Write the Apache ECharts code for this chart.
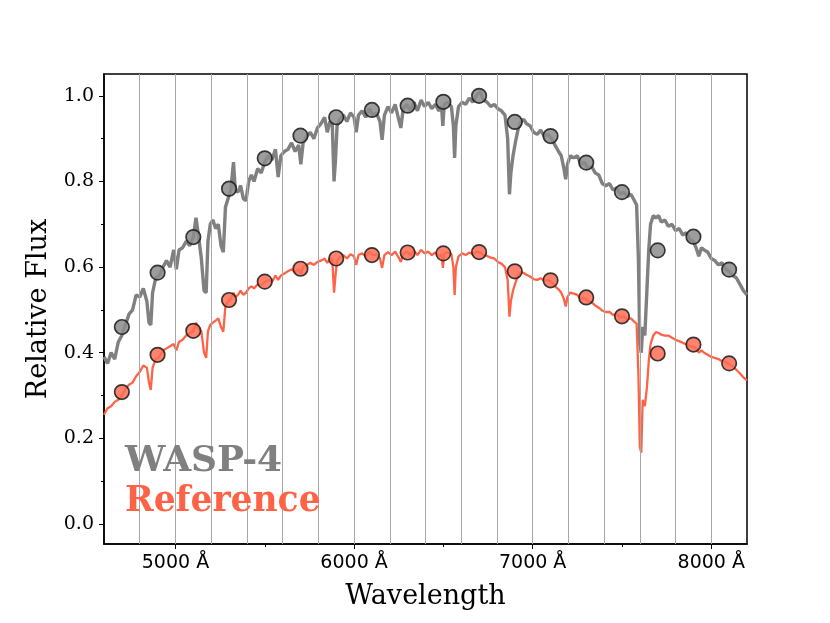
<!DOCTYPE html>
<html>
<head>
  <meta charset="UTF-8">
  <title>WASP-4 spectrum</title>
  <script src="https://cdn.jsdelivr.net/npm/echarts@6/dist/echarts.min.js"></script>
  <style>
    html, body { margin: 0; padding: 0; background: #fff; }
  </style>
</head>
<body>
  <div id="main" style="width: 830px; height: 623px;"></div>

  <script>
    // wavelength grid (Å) shared by both spectra
    const wave = [
      4600, 4620, 4640, 4660, 4680, 4700, 4720, 4740, 4760, 4780, 4800, 4820, 4840, 4852, 4862, 4872, 4890,
      4910, 4930, 4950, 4970, 4990, 5005, 5020, 5040, 5060, 5080, 5100, 5115, 5130, 5145, 5160, 5172, 5182,
      5195, 5210, 5225, 5240, 5255, 5268, 5280, 5295, 5310, 5325, 5335, 5350, 5365, 5380, 5395, 5410, 5425,
      5440, 5460, 5480, 5500, 5520, 5540, 5560, 5575, 5590, 5610, 5630, 5650, 5670, 5690, 5702, 5715, 5735,
      5755, 5775, 5795, 5815, 5835, 5850, 5865, 5878, 5888, 5896, 5905, 5920, 5940, 5960, 5980, 6000, 6012,
      6025, 6045, 6065, 6085, 6105, 6125, 6145, 6157, 6170, 6190, 6210, 6230, 6250, 6262, 6275, 6295, 6315,
      6335, 6355, 6375, 6395, 6415, 6435, 6455, 6475, 6490, 6497, 6505, 6525, 6545, 6556, 6563, 6570, 6585,
      6605, 6625, 6645, 6665, 6685, 6705, 6725, 6745, 6765, 6785, 6805, 6825, 6845, 6860, 6870, 6878, 6890,
      6905, 6920, 6935, 6950, 6965, 6985, 7005, 7025, 7045, 7065, 7085, 7105, 7125, 7145, 7160, 7175, 7185,
      7195, 7210, 7230, 7250, 7270, 7290, 7310, 7330, 7350, 7370, 7390, 7410, 7430, 7450, 7470, 7490, 7510,
      7530, 7550, 7570, 7582, 7592, 7600, 7608, 7616, 7628, 7640, 7650, 7660, 7675, 7690, 7705, 7720, 7740,
      7760, 7780, 7800, 7820, 7840, 7860, 7880, 7900, 7915, 7930, 7945, 7960, 7980, 8000, 8020, 8040, 8060,
      8080, 8100, 8120, 8140, 8160, 8180, 8200
    ];

    const wasp4Flux = [
      0.390, 0.375, 0.400, 0.385, 0.425, 0.440, 0.465, 0.490, 0.500, 0.535, 0.530, 0.550, 0.520, 0.470, 0.465, 0.540, 0.575,
      0.580, 0.600, 0.615, 0.600, 0.640, 0.595, 0.640, 0.645, 0.660, 0.650, 0.670, 0.715, 0.670, 0.620, 0.545, 0.540, 0.660,
      0.700, 0.710, 0.690, 0.700, 0.650, 0.635, 0.740, 0.760, 0.780, 0.845, 0.780, 0.775, 0.790, 0.760, 0.755, 0.800, 0.815,
      0.800, 0.830, 0.820, 0.845, 0.860, 0.850, 0.875, 0.810, 0.860, 0.870, 0.875, 0.890, 0.870, 0.885, 0.840, 0.890, 0.905,
      0.915, 0.900, 0.925, 0.935, 0.950, 0.915, 0.940, 0.935, 0.800, 0.850, 0.930, 0.945, 0.955, 0.940, 0.960, 0.950, 0.915,
      0.955, 0.965, 0.950, 0.970, 0.955, 0.960, 0.940, 0.897, 0.955, 0.975, 0.960, 0.980, 0.945, 0.925, 0.970, 0.980, 0.965,
      0.985, 0.965, 0.990, 0.975, 0.985, 0.970, 0.980, 0.965, 0.975, 0.930, 0.980, 0.985, 0.975, 0.930, 0.855, 0.930, 0.975,
      0.985, 0.980, 0.995, 0.985, 1.000, 1.010, 0.990, 0.985, 0.975, 0.980, 0.970, 0.965, 0.955, 0.900, 0.770, 0.820, 0.860,
      0.895, 0.925, 0.940, 0.945, 0.935, 0.930, 0.915, 0.910, 0.920, 0.905, 0.910, 0.900, 0.885, 0.870, 0.860, 0.830, 0.805,
      0.840, 0.860, 0.855, 0.860, 0.840, 0.845, 0.830, 0.835, 0.820, 0.815, 0.795, 0.790, 0.795, 0.780, 0.785, 0.770, 0.775,
      0.765, 0.770, 0.755, 0.745, 0.620, 0.420, 0.400, 0.460, 0.440, 0.550, 0.640, 0.700, 0.720, 0.715, 0.720, 0.705, 0.710,
      0.695, 0.700, 0.685, 0.690, 0.675, 0.680, 0.665, 0.660, 0.645, 0.625, 0.645, 0.640, 0.635, 0.620, 0.615, 0.605, 0.610,
      0.595, 0.590, 0.580, 0.575, 0.560, 0.545, 0.535
    ];

    const refFlux = [
      0.255, 0.270, 0.275, 0.285, 0.290, 0.300, 0.315, 0.325, 0.330, 0.345, 0.355, 0.370, 0.365, 0.330, 0.313, 0.365, 0.385,
      0.390, 0.405, 0.410, 0.415, 0.420, 0.405, 0.425, 0.430, 0.440, 0.445, 0.450, 0.470, 0.455, 0.450, 0.400, 0.388, 0.450,
      0.465, 0.470, 0.475, 0.480, 0.460, 0.449, 0.510, 0.520, 0.525, 0.540, 0.530, 0.535, 0.545, 0.535, 0.540, 0.550, 0.555,
      0.550, 0.560, 0.558, 0.565, 0.570, 0.565, 0.580, 0.570, 0.580, 0.585, 0.590, 0.595, 0.588, 0.595, 0.583, 0.600, 0.605,
      0.610, 0.605, 0.612, 0.615, 0.620, 0.610, 0.620, 0.618, 0.540, 0.580, 0.615, 0.622, 0.628, 0.620, 0.630, 0.625, 0.605,
      0.628, 0.632, 0.625, 0.635, 0.628, 0.630, 0.620, 0.598, 0.628, 0.635, 0.628, 0.636, 0.622, 0.612, 0.630, 0.636, 0.628,
      0.638, 0.628, 0.640, 0.632, 0.636, 0.628, 0.634, 0.626, 0.630, 0.598, 0.632, 0.635, 0.630, 0.600, 0.535, 0.600, 0.625,
      0.632, 0.628, 0.634, 0.630, 0.636, 0.634, 0.628, 0.626, 0.622, 0.620, 0.612, 0.608, 0.600, 0.570, 0.484, 0.520, 0.545,
      0.565, 0.582, 0.588, 0.586, 0.582, 0.578, 0.572, 0.570, 0.574, 0.568, 0.570, 0.565, 0.555, 0.548, 0.540, 0.525, 0.508,
      0.530, 0.540, 0.538, 0.535, 0.525, 0.528, 0.520, 0.518, 0.510, 0.505, 0.498, 0.495, 0.495, 0.488, 0.490, 0.482, 0.484,
      0.478, 0.480, 0.472, 0.468, 0.350, 0.180, 0.166, 0.290, 0.275, 0.320, 0.380, 0.420, 0.440, 0.448, 0.446, 0.442, 0.440,
      0.440, 0.435, 0.430, 0.427, 0.423, 0.420, 0.415, 0.414, 0.410, 0.400, 0.405, 0.400, 0.395, 0.390, 0.388, 0.385, 0.380,
      0.378, 0.373, 0.368, 0.360, 0.352, 0.342, 0.335
    ];

    // binned photometry, 200 Å bins
    const binCenters = [4700, 4900, 5100, 5300, 5500, 5700, 5900, 6100, 6300, 6500, 6700, 6900, 7100, 7300, 7500, 7700, 7900, 8100];
    const wasp4Binned = [0.460, 0.587, 0.670, 0.783, 0.854, 0.907, 0.950, 0.967, 0.977, 0.986, 1.000, 0.939, 0.906, 0.844, 0.775, 0.639, 0.671, 0.594];
    const refBinned = [0.308, 0.395, 0.451, 0.523, 0.566, 0.596, 0.620, 0.628, 0.634, 0.632, 0.635, 0.590, 0.569, 0.529, 0.485, 0.398, 0.419, 0.375];
    const binEdges = [4800, 5000, 5200, 5400, 5600, 5800, 6000, 6200, 6400, 6600, 6800, 7000, 7200, 7400, 7600, 7800, 8000];

    const xMajor = [5000, 6000, 7000, 8000];
    const xMinor = [5500, 6500, 7500];
    const yMajor = [0.0, 0.2, 0.4, 0.6, 0.8, 1.0];
    const yMinor = [0.1, 0.3, 0.5, 0.7, 0.9];

    const zip = (xs, ys) => xs.map((x, i) => [x, ys[i]]);

    const serif = '"DejaVu Serif", serif';
    const sans = '"DejaVu Sans", sans-serif';

    const option = {
      animation: false,
      backgroundColor: '#fff',
      grid: {
        left: 104, right: 83, top: 74, bottom: 79,
        show: true,
        borderColor: '#000',
        borderWidth: 1.5
      },
      xAxis: [
        {
          type: 'value', min: 4600, max: 8200, position: 'bottom',
          name: 'Wavelength', nameLocation: 'middle', nameGap: 39,
          nameTextStyle: { fontFamily: serif, fontSize: 27, color: '#000' },
          axisLine: { onZero: false, lineStyle: { color: '#000', width: 1.5 } },
          axisTick: { customValues: xMajor, length: 5, lineStyle: { color: '#000', width: 1 } },
          axisLabel: {
            customValues: xMajor, margin: 10,
            fontFamily: sans, fontSize: 19, color: '#000',
            formatter: v => v + ' Å'
          },
          splitLine: { show: false }
        },
        {
          type: 'value', min: 4600, max: 8200, position: 'bottom',
          axisLine: { show: false, onZero: false },
          axisTick: { customValues: xMinor, length: 3, lineStyle: { color: '#000', width: 1 } },
          axisLabel: { show: false },
          splitLine: { show: false }
        }
      ],
      yAxis: [
        {
          type: 'value', min: -0.047, max: 1.051, position: 'left',
          name: 'Relative Flux', nameLocation: 'middle', nameGap: 52,
          nameTextStyle: { fontFamily: serif, fontSize: 27, color: '#000' },
          axisLine: { show: true, onZero: false, lineStyle: { color: '#000', width: 1.5 } },
          axisTick: { show: true, customValues: yMajor, length: 5, lineStyle: { color: '#000', width: 1 } },
          axisLabel: {
            customValues: yMajor, margin: 10,
            fontFamily: serif, fontSize: 19, color: '#000',
            formatter: v => v.toFixed(1)
          },
          splitLine: { show: false }
        },
        {
          type: 'value', min: -0.047, max: 1.051, position: 'left',
          axisLine: { show: false, onZero: false },
          axisTick: { show: true, customValues: yMinor, length: 3, lineStyle: { color: '#000', width: 1 } },
          axisLabel: { show: false },
          splitLine: { show: false }
        }
      ],
      series: [
        {
          // bin edges
          type: 'line', data: [], z: 1, silent: true,
          markLine: {
            silent: true, symbol: 'none', animation: false,
            label: { show: false },
            lineStyle: { color: '#a8a8a8', width: 1, type: 'solid' },
            data: binEdges.map(x => ({ xAxis: x }))
          }
        },
        {
          name: 'WASP-4', type: 'line', data: zip(wave, wasp4Flux),
          showSymbol: false, z: 2,
          lineStyle: { color: '#808080', width: 3.4 }
        },
        {
          name: 'Reference', type: 'line', data: zip(wave, refFlux),
          showSymbol: false, z: 3,
          lineStyle: { color: '#ff6347', width: 2.3 }
        },
        {
          name: 'WASP-4 bins', type: 'scatter', data: zip(binCenters, wasp4Binned),
          symbolSize: 14.5, z: 4,
          itemStyle: { color: '#8c8c8c', borderColor: '#1a1a1a', borderWidth: 1.7, opacity: 0.85 }
        },
        {
          name: 'Reference bins', type: 'scatter', data: zip(binCenters, refBinned),
          symbolSize: 14.5, z: 5,
          itemStyle: { color: '#ff6d55', borderColor: '#1a1a1a', borderWidth: 1.7, opacity: 0.85 }
        }
      ],
      graphic: [
        {
          type: 'text', left: 125, top: 444, z: 10,
          style: { text: 'WASP-4', font: 'bold 36px "DejaVu Serif"', fill: '#808080' }
        },
        {
          type: 'text', left: 125, top: 485, z: 10,
          style: { text: 'Reference', font: 'bold 34.5px "DejaVu Serif"', fill: '#ff6347' }
        }
      ]
    };

    const chart = echarts.init(document.getElementById('main'));
    chart.setOption(option);
  </script>
</body>
</html>
